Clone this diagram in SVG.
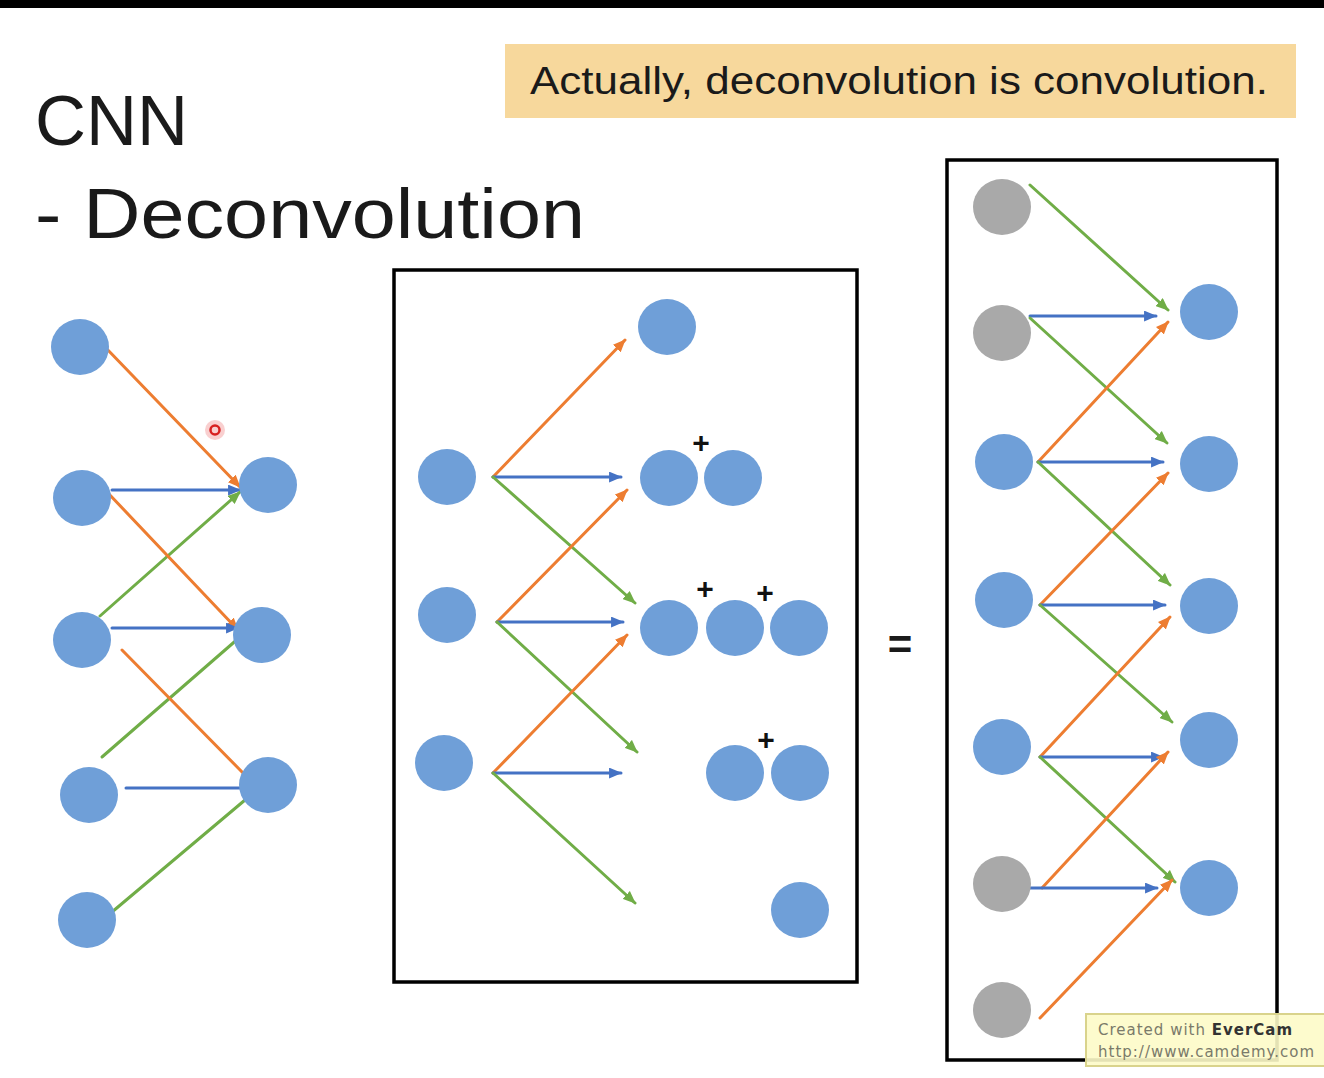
<svg xmlns="http://www.w3.org/2000/svg" width="1324" height="1078" viewBox="0 0 1324 1078">
<style>
.n{fill:#6f9fd8}
.g{fill:#a9a9a9}
.e{stroke-width:3;fill:none;stroke-linecap:round}
.b{stroke:#4472c4}
.o{stroke:#ed7d31}
.gr{stroke:#70ad47}
.box{fill:none;stroke:#000;stroke-width:3.5}
.t{font-family:"Liberation Sans",Arial,sans-serif;fill:#1a1a1a}
.p{font-family:"Liberation Sans",Arial,sans-serif;font-size:30px;font-weight:bold;fill:#111;text-anchor:middle}
</style>
<defs>
<marker id="mb" viewBox="0 0 12 10" refX="11" refY="5" markerWidth="13" markerHeight="11" markerUnits="userSpaceOnUse" orient="auto"><path d="M0,0 L12,5 L0,10 z" fill="#4472c4"/></marker>
<marker id="mo" viewBox="0 0 12 10" refX="11" refY="5" markerWidth="13" markerHeight="11" markerUnits="userSpaceOnUse" orient="auto"><path d="M0,0 L12,5 L0,10 z" fill="#ed7d31"/></marker>
<marker id="mg" viewBox="0 0 12 10" refX="11" refY="5" markerWidth="13" markerHeight="11" markerUnits="userSpaceOnUse" orient="auto"><path d="M0,0 L12,5 L0,10 z" fill="#70ad47"/></marker>
</defs>
<rect x="0" y="0" width="1324" height="1078" fill="#fff"/>
<rect x="0" y="0" width="1324" height="8" fill="#000"/>

<g id="title">
<text class="t" x="35" y="145" font-size="70" textLength="153" lengthAdjust="spacingAndGlyphs">CNN</text>
<text class="t" x="35" y="238" font-size="70" textLength="550" lengthAdjust="spacingAndGlyphs">- Deconvolution</text>
</g>
<g id="note">
<rect x="505" y="44" width="791" height="74" fill="#f7d89c"/>
<text class="t" x="530" y="94" font-size="38" textLength="738" lengthAdjust="spacingAndGlyphs">Actually, deconvolution is convolution.</text>
</g>

<g id="connectors">
<!-- left diagram -->
<line class="e o" x1="105" y1="347" x2="240" y2="487" marker-end="url(#mo)"/>
<line class="e b" x1="112" y1="490" x2="240" y2="490" marker-end="url(#mb)"/>
<line class="e gr" x1="100" y1="616" x2="240" y2="492" marker-end="url(#mg)"/>
<line class="e o" x1="108" y1="493" x2="238" y2="630" marker-end="url(#mo)"/>
<line class="e b" x1="112" y1="628" x2="238" y2="628" marker-end="url(#mb)"/>
<line class="e gr" x1="102" y1="757" x2="240" y2="637"/>
<line class="e o" x1="122" y1="650" x2="245" y2="775"/>
<line class="e b" x1="126" y1="788" x2="242" y2="788"/>
<line class="e gr" x1="112" y1="912" x2="245" y2="800"/>
<!-- middle box -->
<line class="e o" x1="493" y1="477" x2="625" y2="340" marker-end="url(#mo)"/>
<line class="e b" x1="493" y1="477" x2="621" y2="477" marker-end="url(#mb)"/>
<line class="e gr" x1="493" y1="477" x2="635" y2="603" marker-end="url(#mg)"/>
<line class="e o" x1="497" y1="622" x2="627" y2="490" marker-end="url(#mo)"/>
<line class="e b" x1="497" y1="622" x2="623" y2="622" marker-end="url(#mb)"/>
<line class="e gr" x1="497" y1="622" x2="637" y2="752" marker-end="url(#mg)"/>
<line class="e o" x1="493" y1="773" x2="627" y2="635" marker-end="url(#mo)"/>
<line class="e b" x1="493" y1="773" x2="621" y2="773" marker-end="url(#mb)"/>
<line class="e gr" x1="493" y1="773" x2="635" y2="903" marker-end="url(#mg)"/>
<!-- right box -->
<line class="e gr" x1="1030" y1="185" x2="1168" y2="310" marker-end="url(#mg)"/>
<line class="e b" x1="1030" y1="316" x2="1156" y2="316" marker-end="url(#mb)"/>
<line class="e gr" x1="1030" y1="318" x2="1167" y2="443" marker-end="url(#mg)"/>
<line class="e o" x1="1038" y1="462" x2="1168" y2="322" marker-end="url(#mo)"/>
<line class="e b" x1="1038" y1="462" x2="1163" y2="462" marker-end="url(#mb)"/>
<line class="e gr" x1="1038" y1="462" x2="1170" y2="585" marker-end="url(#mg)"/>
<line class="e o" x1="1040" y1="605" x2="1168" y2="473" marker-end="url(#mo)"/>
<line class="e b" x1="1040" y1="605" x2="1165" y2="605" marker-end="url(#mb)"/>
<line class="e gr" x1="1040" y1="605" x2="1172" y2="722" marker-end="url(#mg)"/>
<line class="e o" x1="1040" y1="757" x2="1170" y2="617" marker-end="url(#mo)"/>
<line class="e b" x1="1040" y1="757" x2="1163" y2="757" marker-end="url(#mb)"/>
<line class="e gr" x1="1040" y1="757" x2="1175" y2="882" marker-end="url(#mg)"/>
<line class="e o" x1="1042" y1="888" x2="1168" y2="752" marker-end="url(#mo)"/>
<line class="e b" x1="1030" y1="888" x2="1157" y2="888" marker-end="url(#mb)"/>
<line class="e o" x1="1040" y1="1018" x2="1172" y2="880" marker-end="url(#mo)"/>
</g>

<g id="left-inputs">
<ellipse id="l-in1" class="n" cx="80" cy="347" rx="29" ry="28"/>
<ellipse id="l-in2" class="n" cx="82" cy="498" rx="29" ry="28"/>
<ellipse id="l-in3" class="n" cx="82" cy="640" rx="29" ry="28"/>
<ellipse id="l-in4" class="n" cx="89" cy="795" rx="29" ry="28"/>
<ellipse id="l-in5" class="n" cx="87" cy="920" rx="29" ry="28"/>
</g>
<g id="left-outputs">
<ellipse id="l-out1" class="n" cx="268" cy="485" rx="29" ry="28"/>
<ellipse id="l-out2" class="n" cx="262" cy="635" rx="29" ry="28"/>
<ellipse id="l-out3" class="n" cx="268" cy="785" rx="29" ry="28"/>
</g>
<g id="cursor">
<circle cx="215" cy="430" r="10" fill="#f4a0a0" opacity="0.5"/>
<circle cx="215" cy="430" r="4.5" fill="none" stroke="#d82020" stroke-width="2.5"/>
</g>

<g id="middle-box">
<rect class="box" x="394" y="270" width="463" height="712"/>
</g>
<g id="mid-inputs">
<ellipse id="m-in1" class="n" cx="447" cy="477" rx="29" ry="28"/>
<ellipse id="m-in2" class="n" cx="447" cy="615" rx="29" ry="28"/>
<ellipse id="m-in3" class="n" cx="444" cy="763" rx="29" ry="28"/>
</g>
<g id="mid-outputs">
<ellipse id="m-o1" class="n" cx="667" cy="327" rx="29" ry="28"/>
<ellipse id="m-o2a" class="n" cx="669" cy="478" rx="29" ry="28"/>
<ellipse id="m-o2b" class="n" cx="733" cy="478" rx="29" ry="28"/>
<ellipse id="m-o3a" class="n" cx="669" cy="628" rx="29" ry="28"/>
<ellipse id="m-o3b" class="n" cx="735" cy="628" rx="29" ry="28"/>
<ellipse id="m-o3c" class="n" cx="799" cy="628" rx="29" ry="28"/>
<ellipse id="m-o4a" class="n" cx="735" cy="773" rx="29" ry="28"/>
<ellipse id="m-o4b" class="n" cx="800" cy="773" rx="29" ry="28"/>
<ellipse id="m-o5" class="n" cx="800" cy="910" rx="29" ry="28"/>
</g>
<g id="plus-signs">
<text class="p" x="701" y="453">+</text>
<text class="p" x="705" y="599">+</text>
<text class="p" x="765" y="603">+</text>
<text class="p" x="766" y="750">+</text>
</g>

<g id="equals">
<text class="t" x="900" y="659" font-size="42" font-weight="bold" text-anchor="middle">=</text>
</g>

<g id="right-box">
<rect class="box" x="947" y="160" width="330" height="900"/>
</g>
<g id="right-inputs">
<ellipse id="r-in1" class="g" cx="1002" cy="207" rx="29" ry="28"/>
<ellipse id="r-in2" class="g" cx="1002" cy="333" rx="29" ry="28"/>
<ellipse id="r-in3" class="n" cx="1004" cy="462" rx="29" ry="28"/>
<ellipse id="r-in4" class="n" cx="1004" cy="600" rx="29" ry="28"/>
<ellipse id="r-in5" class="n" cx="1002" cy="747" rx="29" ry="28"/>
<ellipse id="r-in6" class="g" cx="1002" cy="884" rx="29" ry="28"/>
<ellipse id="r-in7" class="g" cx="1002" cy="1010" rx="29" ry="28"/>
</g>
<g id="right-outputs">
<ellipse id="r-o1" class="n" cx="1209" cy="312" rx="29" ry="28"/>
<ellipse id="r-o2" class="n" cx="1209" cy="464" rx="29" ry="28"/>
<ellipse id="r-o3" class="n" cx="1209" cy="606" rx="29" ry="28"/>
<ellipse id="r-o4" class="n" cx="1209" cy="740" rx="29" ry="28"/>
<ellipse id="r-o5" class="n" cx="1209" cy="888" rx="29" ry="28"/>
</g>

<g id="watermark">
<rect x="1086" y="1014" width="240" height="52" fill="#fdfbc8" fill-opacity="0.9" stroke="#d9d38c" stroke-width="2"/>
<text x="1098" y="1035" font-family="'DejaVu Sans',Verdana,sans-serif" font-size="15" letter-spacing="1" fill="#7a7a6a">Created with <tspan font-weight="bold" fill="#333">EverCam</tspan></text>
<text x="1098" y="1057" font-family="'DejaVu Sans',Verdana,sans-serif" font-size="15" letter-spacing="1" fill="#7a7a6a">http://www.camdemy.com</text>
</g>
</svg>
